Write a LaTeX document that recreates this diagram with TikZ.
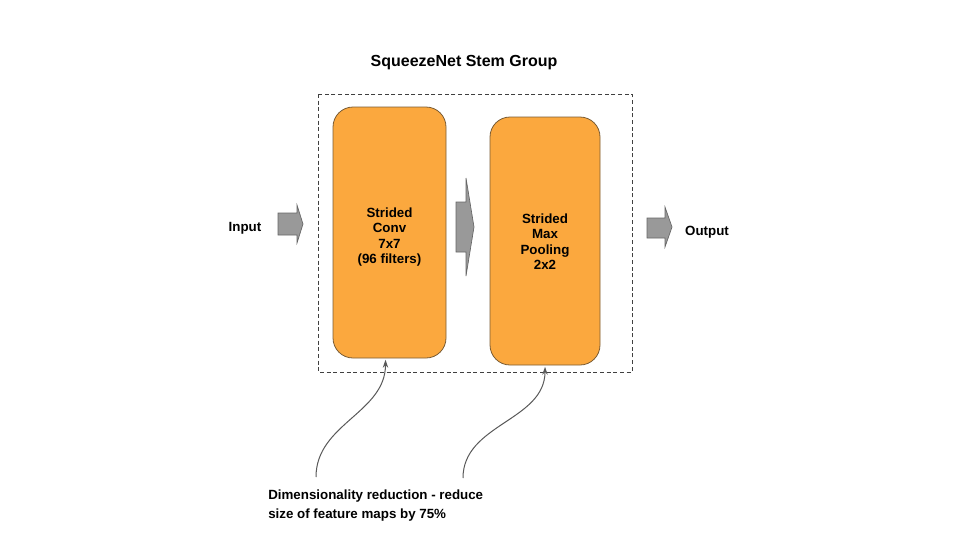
\documentclass[tikz,border=0pt]{standalone}
\usepackage{fontspec}
\setmainfont{Liberation Sans}
\usepackage{xcolor}
\usetikzlibrary{arrows.meta}

\definecolor{boxorange}{RGB}{251,168,62}
\definecolor{boxedge}{RGB}{122,92,52}
\definecolor{arrowgray}{RGB}{153,153,153}
\definecolor{arrowedge}{RGB}{102,102,102}
\definecolor{linegray}{RGB}{89,89,89}

\tikzset{
  layer/.style={draw=boxedge,fill=boxorange,rounded corners=15pt,line width=0.6pt},
  layertext/.style={align=center,inner sep=0pt,font=\bfseries\fontsize{10}{11.5}\selectfont},
  blockarrow/.style={draw=arrowedge,fill=arrowgray,line width=0.5pt},
  label/.style={font=\bfseries\fontsize{10}{12}\selectfont,inner sep=0pt},
  note/.style={draw=linegray,line width=0.75pt,-{Stealth[length=6pt,width=4pt]}}
}

\begin{document}
\begin{tikzpicture}[x=0.75pt,y=-0.75pt]
    \useasboundingbox (0,0) rectangle (960,540);

    % title and group frame
    \node[font=\bfseries\fontsize{12}{14}\selectfont] (title) at (464,63) {SqueezeNet Stem Group};
    \draw[draw=black!75,line width=0.6pt,dash pattern=on 3pt off 2pt] (318,94) rectangle (632,372);

    % the two layers
    \node[layer,minimum width=84.75pt,minimum height=188.25pt] (conv) at (389.5,232.5) {};
    \node[layertext] (convtext) at (389.5,237) {Strided\\Conv\\7x7\\(96 filters)};
    \node[layer,minimum width=82.5pt,minimum height=186pt] (pool) at (545,241) {};
    \node[layertext] (pooltext) at (545,241.5) {Strided\\Max\\Pooling\\2x2};

    % block arrows
    \draw[blockarrow] (278,213) -- (297,213) -- (297,205) -- (303,224) -- (297,243)
        -- (297,235) -- (278,235) -- cycle;
    \draw[blockarrow] (456,202) -- (466,202) -- (466,178) -- (474,227) -- (466,276)
        -- (466,252) -- (456,252) -- cycle;
    \draw[blockarrow] (647,218) -- (665,218) -- (665,207) -- (672,227) -- (665,247)
        -- (665,238) -- (647,238) -- cycle;

    \node[label] (input) at (245,228) {Input};
    \node[label] (output) at (707,232) {Output};

    % annotation
    \node[label,anchor=north west,align=left,font=\bfseries\fontsize{10}{14.25}\selectfont]
        (remark) at (268,490) {Dimensionality reduction - reduce\\size of feature maps by 75\%};
    \coordinate (c1) at (316,477);
    \coordinate (c2) at (463,478);
    \draw[note] (c1) to [out=90,in=-90] ([xshift=-3pt,yshift=-1pt]conv.south);
    \draw[note] (c2) to [out=90,in=-90] ([yshift=-1pt]pool.south);
\end{tikzpicture}
\end{document}
